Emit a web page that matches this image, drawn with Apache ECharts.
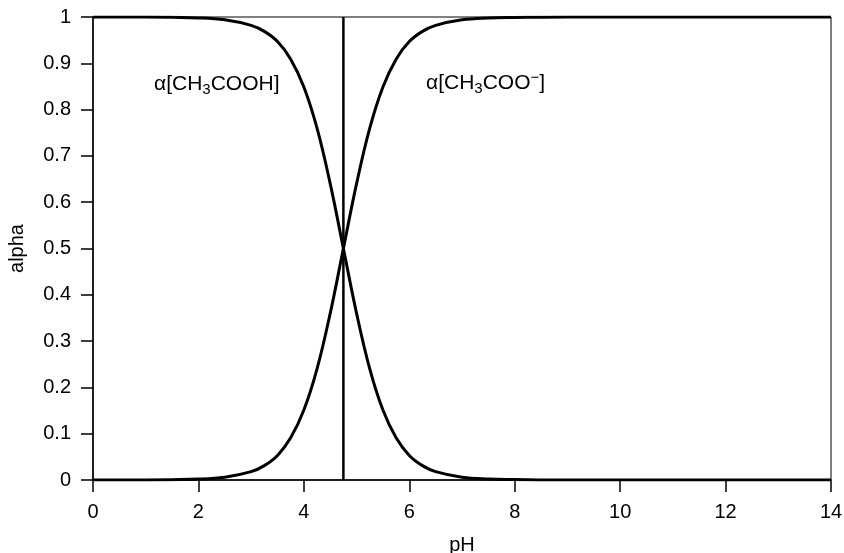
<!DOCTYPE html>
<html>
<head>
<meta charset="utf-8">
<script src="https://cdn.jsdelivr.net/npm/echarts@6/dist/echarts.min.js"></script>
<style>html,body{margin:0;padding:0;background:#fff}#c{width:844px;height:553px}</style>
</head>
<body>
<div id="c"></div>
<script>
const pH = [0,1,2,2.5,3,3.25,3.5,3.75,4,4.25,4.5,4.75,5,5.25,5.5,5.75,6,6.25,6.5,7,7.5,8,9,10,11,12,13,14];
const alphaHA = [1.000,1.000,0.998,0.994,0.982,0.969,0.947,0.909,0.849,0.760,0.640,0.500,0.360,0.240,0.151,0.091,0.053,0.031,0.018,0.006,0.002,0.001,0,0,0,0,0,0];
const alphaA = [0,0,0.002,0.006,0.018,0.031,0.053,0.091,0.151,0.240,0.360,0.500,0.640,0.760,0.849,0.909,0.947,0.969,0.982,0.994,0.998,0.999,1,1,1,1,1,1];
const pKaX = [4.75, 4.75];
const pKaY = [0, 1];
const xTicks = [0,2,4,6,8,10,12,14];
const yTicks = [0,0.1,0.2,0.3,0.4,0.5,0.6,0.7,0.8,0.9,1];

const FONT = 'Liberation Sans, Arial, Helvetica, sans-serif';
const FS = 20;
const chart = echarts.init(document.getElementById('c'));
const zip = (xs, ys) => xs.map((x, i) => [x, ys[i]]);
const rich = {
  a: {fontSize: 21, fontFamily: FONT, color: '#000'},
  sub: {fontSize: 15, fontFamily: FONT, color: '#000', padding: [11, 0, 0, 0]},
  sup: {fontSize: 15, fontFamily: FONT, color: '#000', padding: [0, 0, 11, 0]}
};
chart.setOption({
  animation: false,
  backgroundColor: '#fff',
  grid: {left: 93, right: 13, top: 17, bottom: 73, show: true, borderColor: '#000', borderWidth: 1,
    containLabel: false, outerBoundsMode: 'none'},
  xAxis: {
    type: 'value', min: 0, max: 14, interval: 2,
    name: 'pH', nameLocation: 'middle', nameGap: 55,
    nameTextStyle: {fontSize: FS, fontFamily: FONT, color: '#000'},
    axisLine: {lineStyle: {color: '#000', width: 1.5}},
    axisTick: {length: 12, lineStyle: {color: '#000', width: 1.5}},
    axisLabel: {fontSize: FS, fontFamily: FONT, color: '#000', margin: 22,
      customValues: xTicks},
    splitLine: {show: false}
  },
  yAxis: {
    type: 'value', min: 0, max: 1, interval: 0.1,
    name: 'alpha', nameLocation: 'middle', nameGap: 66,
    nameTextStyle: {fontSize: FS, fontFamily: FONT, color: '#000'},
    axisLine: {lineStyle: {color: '#000', width: 1.5}},
    axisTick: {length: 12, lineStyle: {color: '#000', width: 1.5}},
    axisLabel: {fontSize: FS, fontFamily: FONT, color: '#000', margin: 22,
      customValues: yTicks},
    splitLine: {show: false}
  },
  graphic: [
    {type: 'text', left: 154, top: 74, style: {text: '{a|α[CH}{sub|3}{a|COOH]}', rich: rich}},
    {type: 'text', left: 426, top: 70, style: {text: '{a|α[CH}{sub|3}{a|COO}{sup|−}{a|]}', rich: rich}}
  ],
  series: [
    {type: 'line', data: zip(pH, alphaHA), smooth: 0.4, showSymbol: false,
      lineStyle: {color: '#000', width: 3}},
    {type: 'line', data: zip(pH, alphaA), smooth: 0.4, showSymbol: false,
      lineStyle: {color: '#000', width: 3}},
    {type: 'line', data: zip(pKaX, pKaY), showSymbol: false,
      lineStyle: {color: '#000', width: 2.5}}
  ]
});
</script>
</body>
</html>
